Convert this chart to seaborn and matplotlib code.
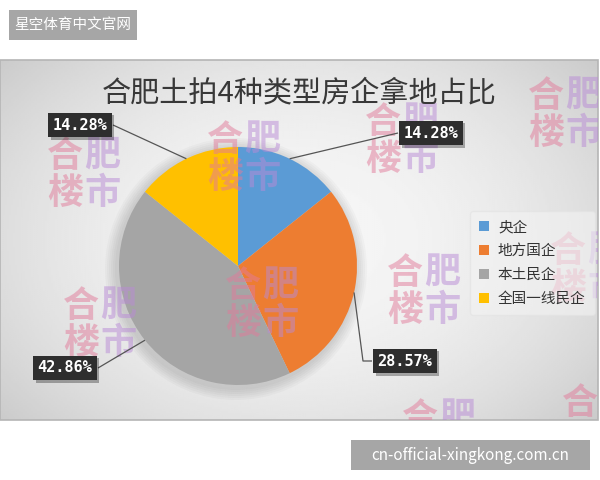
import numpy as np
import matplotlib
matplotlib.use("Agg")
import matplotlib.pyplot as plt
import seaborn as sns
from matplotlib.patches import Rectangle
from matplotlib.transforms import Bbox, TransformedBbox

# data
names = ['央企', '地方国企', '本土民企', '全国一线民企']
shares = [14.28, 28.57, 42.86, 14.28]
title = '合肥土拍4种类型房企拿地占比'

sns.set_theme(style="white")
plt.rcParams['font.family'] = ['Noto Sans CJK SC', 'DejaVu Sans']
colors = sns.color_palette(['#5B9BD5', '#ED7D31', '#A5A5A5', '#FFC000'])

fig = plt.figure(figsize=(6, 4.8), dpi=100)
fig.patch.set_facecolor('white')
ax = fig.add_axes([0, 0, 1, 1])   # pixel coords, y upwards
ax.set_xlim(0, 600)
ax.set_ylim(0, 480)

# chart panel with light radial gradient
px0, px1, py0, py1 = 0, 598, 60, 420
gx, gy = np.meshgrid(np.linspace(-1, 1, 300), np.linspace(-1, 1, 180))
shade = 0.965 - 0.13 * (0.75 * gx**2 + 0.55 * gy**2)
ax.imshow(shade, cmap='gray', vmin=0, vmax=1, extent=(px0, px1, py0, py1),
          aspect='auto', zorder=0, interpolation='bilinear')
panel = Rectangle((px0, py0), px1 - px0, py1 - py0, fill=False,
                  edgecolor='#b5b5b5', lw=1.2, zorder=1)
ax.add_patch(panel)

# pie
cx, cy, r = 238, 214, 119
# soft shadow
for k in range(6):
    ax.add_patch(plt.Circle((cx - 2, cy - 3), r + 2 + 2 * k, color='black',
                            alpha=0.025, lw=0, zorder=1.5))
wedges, _ = ax.pie(shares, center=(cx, cy), radius=r, startangle=90,
                   counterclock=False, colors=colors,
                   wedgeprops=dict(linewidth=0, zorder=2))
ax.set_xlim(0, 600)
ax.set_ylim(0, 480)
ax.set_aspect('auto')

# watermarks "合肥楼市"
clip_box = TransformedBbox(Bbox([[px0, py0], [px1, py1]]), ax.transData)
marks = [(47, 138), (207, 122), (365, 104), (528, 78), (63, 288),
         (225, 268), (550, 233), (387, 255), (402, 400), (562, 385)]
chars = [('合', 0, 0, '#e27a9a'), ('肥', 37, 0, '#b98ad6'),
         ('楼', 0, 37, '#e27a9a'), ('市', 37, 37, '#b98ad6')]
for mx, my in marks:
    for ch, dx, dy, c in chars:
        t = ax.text(mx + dx, 480 - (my + dy), ch, fontsize=26, fontweight='bold',
                    color=c, alpha=0.5, ha='left', va='top', zorder=3)
        t.set_clip_box(clip_box)
        t.set_clip_on(True)

# value labels with leader lines
lab_pos = [(431, 347), (405, 119), (65, 112), (80, 355)]
for w, v, (lx, ly) in zip(wedges, shares, lab_pos):
    ang = np.deg2rad((w.theta1 + w.theta2) / 2)
    ex, ey = cx + r * np.cos(ang), cy + r * np.sin(ang)
    half = 33
    sx = lx - half if lx > cx else lx + half
    if ly < cy and lx > cx:
        xs, ys = [ex, sx - 9, sx], [ey, ly, ly]
    else:
        xs, ys = [ex, sx], [ey, ly]
    ax.plot(xs, ys, color='#555555', lw=0.9, zorder=4, solid_capstyle='butt')
    txt = f'{v:.2f}%'
    ax.text(lx + 2.5, ly - 2.5, txt, fontsize=11, family='DejaVu Sans Mono',
            fontweight='bold', color=(0, 0, 0, 0), ha='center', va='center',
            zorder=4.5, bbox=dict(boxstyle='square,pad=0.3', fc='black',
                                  ec='none', alpha=0.3))
    ax.text(lx, ly, txt, fontsize=11, family='DejaVu Sans Mono',
            fontweight='bold', color='white', ha='center', va='center',
            zorder=5, bbox=dict(boxstyle='square,pad=0.3', fc='#2e2e2e',
                                ec='none'))

ax.text(299, 387, title, fontsize=21, color='#383838', ha='center',
        va='center', zorder=6)

leg = ax.legend(wedges, names, loc='upper left', bbox_to_anchor=(463 / 600, 276 / 480),
                frameon=True, fontsize=10.5, handlelength=0.7, handleheight=0.7,
                handletextpad=0.6, labelspacing=0.68, borderpad=0.6,
                facecolor='#f3f3f3', edgecolor='#e2e2e2', framealpha=0.6)
leg.set_zorder(6)
for t in leg.get_texts():
    t.set_color('#333333')

# top-left and bottom-right site boxes
ax.add_patch(Rectangle((9, 440), 128, 30, color='#a6a6a6', lw=0, zorder=6))
ax.text(73, 455, '星空体育中文官网', fontsize=10.5, color='white',
        ha='center', va='center', zorder=7)
ax.add_patch(Rectangle((351, 10), 239, 30, color='#a6a6a6', lw=0, zorder=6))
ax.text(470.5, 25, 'cn-official-xingkong.com.cn', fontsize=11, color='white',
        ha='center', va='center', zorder=7)

ax.axis('off')

fig.savefig('out.png', dpi=100)
